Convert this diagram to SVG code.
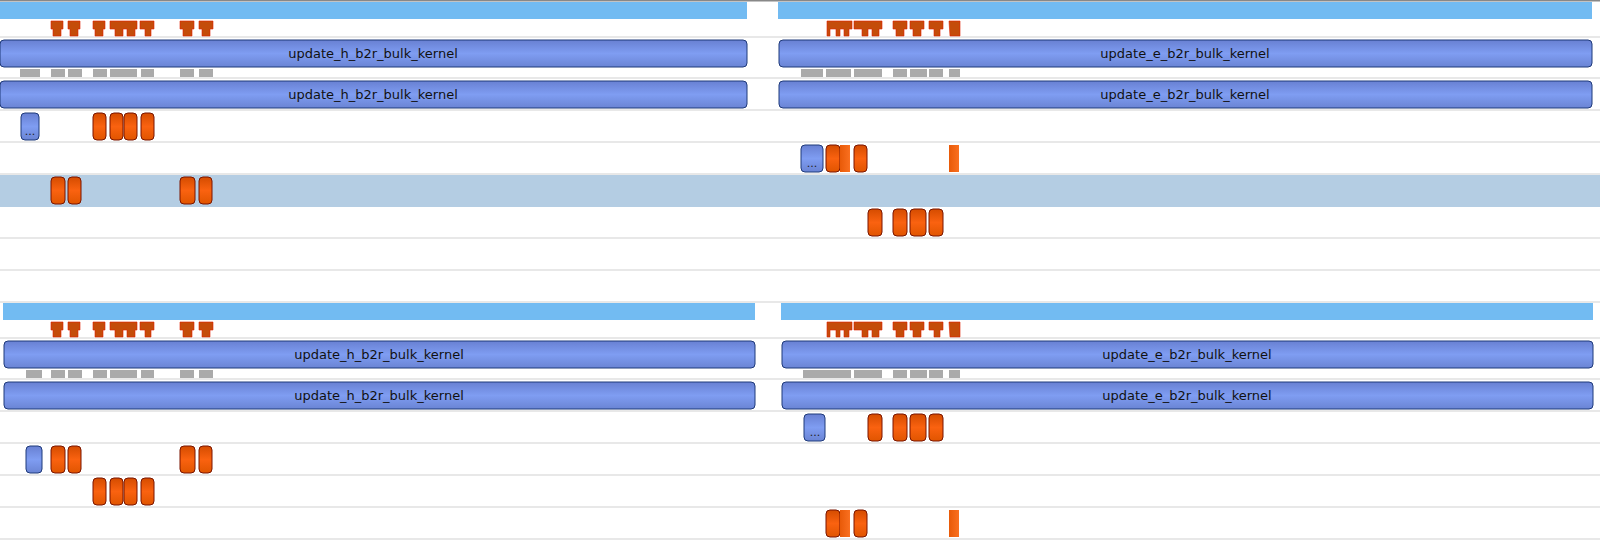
<svg xmlns="http://www.w3.org/2000/svg" width="1600" height="540" viewBox="0 0 1600 540">
<defs>
<linearGradient id="gb" x1="0" y1="0" x2="0" y2="1"><stop offset="0" stop-color="#6880d2"/><stop offset="0.5" stop-color="#7f9df2"/><stop offset="1" stop-color="#6a84d4"/></linearGradient>
<linearGradient id="go" x1="0" y1="0" x2="0" y2="1"><stop offset="0" stop-color="#d44c00"/><stop offset="0.5" stop-color="#fa6210"/><stop offset="1" stop-color="#e05500"/></linearGradient>
<linearGradient id="gr" x1="0" y1="0" x2="1" y2="0"><stop offset="0" stop-color="#e85a08"/><stop offset="1" stop-color="#fa7020"/></linearGradient>
</defs>
<style>
.sep{stroke:#e8e8e8;stroke-width:2}
.lb{fill:#72bbf2}
.bar{fill:url(#gb);stroke:#1f3a7a;stroke-width:1}
.pill{fill:url(#go);stroke:#7a1500;stroke-width:1}
.sq{fill:url(#gr)}
.box{fill:url(#gb);stroke:#1f3a7a;stroke-width:1}
.gr{fill:#aaaaaa}
.t{fill:#c44c0a;stroke:#e02000;stroke-width:0.6}
.lbl{font-family:"DejaVu Sans",sans-serif;font-size:13px;fill:#111}
.dots{font-family:"DejaVu Sans",sans-serif;font-size:11px;fill:#222}
</style>
<rect width="1600" height="540" fill="#fff"/>
<g id="rows">
<rect x="0" y="174" width="1600" height="33" fill="#b4cde3"/>
<line class="sep" x1="0" y1="37" x2="1600" y2="37"/>
<line class="sep" x1="0" y1="78" x2="1600" y2="78"/>
<line class="sep" x1="0" y1="110" x2="1600" y2="110"/>
<line class="sep" x1="0" y1="142" x2="1600" y2="142"/>
<line class="sep" x1="0" y1="174" x2="1600" y2="174"/>
<line class="sep" x1="0" y1="238" x2="1600" y2="238"/>
<line class="sep" x1="0" y1="270" x2="1600" y2="270"/>
<line class="sep" x1="0" y1="302" x2="1600" y2="302"/>
<line class="sep" x1="0" y1="338" x2="1600" y2="338"/>
<line class="sep" x1="0" y1="379" x2="1600" y2="379"/>
<line class="sep" x1="0" y1="411" x2="1600" y2="411"/>
<line class="sep" x1="0" y1="443" x2="1600" y2="443"/>
<line class="sep" x1="0" y1="475" x2="1600" y2="475"/>
<line class="sep" x1="0" y1="507" x2="1600" y2="507"/>
<line class="sep" x1="0" y1="539" x2="1600" y2="539"/>
<rect x="0" y="0" width="1600" height="1.5" fill="#888"/>
</g>
<g id="top-panel">
<rect class="lb" x="0" y="2" width="747" height="17"/>
<rect class="lb" x="778" y="2" width="814" height="17"/>
<g id="top-markers">
<path class="t" d="M51 21h12v8h-2v7h-8v-7h-2z"/>
<path class="t" d="M68 21h12v8h-2v7h-8v-7h-2z"/>
<path class="t" d="M93 21h12v8h-2v7h-8v-7h-2z"/>
<path class="t" d="M110 21h27v8h-2v7h-8v-7h-4v7h-8v-7h-5z"/>
<path class="t" d="M140 21h14v8h-3v7h-6v-7h-5z"/>
<path class="t" d="M180 21h14v8h-2v7h-9v-7h-3z"/>
<path class="t" d="M199 21h14v8h-3v7h-8v-7h-3z"/>
<path class="t" d="M827 21h25v8h-3v7h-5v-7h-4v7h-4v-7h-6v7h-3z"/>
<path class="t" d="M854 21h28v8h-3v7h-7v-7h-4v7h-6v-7h-8z"/>
<path class="t" d="M893 21h14v8h-3v7h-8v-7h-3z"/>
<path class="t" d="M910 21h14v8h-3v7h-8v-7h-3z"/>
<path class="t" d="M929 21h14v8h-3v7h-6v-7h-5z"/>
<path class="t" d="M949 21h11v15h-10z"/>
</g>
<g id="bar-h1"><rect class="bar" x="0" y="40" width="747" height="27" rx="4"/><text class="lbl" x="373" y="58" text-anchor="middle">update_h_b2r_bulk_kernel</text></g>
<g id="bar-e1"><rect class="bar" x="779" y="40" width="813" height="27" rx="4"/><text class="lbl" x="1185" y="58" text-anchor="middle">update_e_b2r_bulk_kernel</text></g>
<g id="top-gray">
<rect class="gr" x="20" y="69" width="20" height="8"/><rect class="gr" x="51" y="69" width="14" height="8"/><rect class="gr" x="68" y="69" width="14" height="8"/><rect class="gr" x="93" y="69" width="14" height="8"/><rect class="gr" x="110" y="69" width="27" height="8"/><rect class="gr" x="141" y="69" width="13" height="8"/><rect class="gr" x="180" y="69" width="14" height="8"/><rect class="gr" x="199" y="69" width="14" height="8"/>
<rect class="gr" x="801" y="69" width="22" height="8"/><rect class="gr" x="826" y="69" width="25" height="8"/><rect class="gr" x="854" y="69" width="28" height="8"/><rect class="gr" x="893" y="69" width="14" height="8"/><rect class="gr" x="910" y="69" width="17" height="8"/><rect class="gr" x="929" y="69" width="14" height="8"/><rect class="gr" x="949" y="69" width="11" height="8"/>
</g>
<g id="bar-h2"><rect class="bar" x="0" y="81" width="747" height="27" rx="4"/><text class="lbl" x="373" y="99" text-anchor="middle">update_h_b2r_bulk_kernel</text></g>
<g id="bar-e2"><rect class="bar" x="779" y="81" width="813" height="27" rx="4"/><text class="lbl" x="1185" y="99" text-anchor="middle">update_e_b2r_bulk_kernel</text></g>
<g id="top-row3">
<rect class="box" x="21" y="113" width="18" height="27" rx="4"/><text class="dots" x="30" y="135" text-anchor="middle">...</text>
<rect class="pill" x="93" y="113" width="13" height="27" rx="4"/><rect class="pill" x="110" y="113" width="13" height="27" rx="4"/><rect class="pill" x="124" y="113" width="13" height="27" rx="4"/><rect class="pill" x="141" y="113" width="13" height="27" rx="4"/>
</g>
<g id="top-row4">
<rect class="box" x="801" y="145" width="22" height="27" rx="4"/><text class="dots" x="812" y="167" text-anchor="middle">...</text>
<rect class="pill" x="826" y="145" width="14" height="27" rx="4"/><rect class="sq" x="840" y="145" width="10" height="27"/><rect class="pill" x="854" y="145" width="13" height="27" rx="4"/><rect class="sq" x="949" y="145" width="10" height="27"/>
</g>
<g id="top-row5">
<rect class="pill" x="51" y="177" width="14" height="27" rx="4"/><rect class="pill" x="68" y="177" width="13" height="27" rx="4"/><rect class="pill" x="180" y="177" width="15" height="27" rx="4"/><rect class="pill" x="199" y="177" width="13" height="27" rx="4"/>
</g>
<g id="top-row6">
<rect class="pill" x="868" y="209" width="14" height="27" rx="4"/><rect class="pill" x="893" y="209" width="14" height="27" rx="4"/><rect class="pill" x="910" y="209" width="16" height="27" rx="4"/><rect class="pill" x="929" y="209" width="14" height="27" rx="4"/>
</g>
</g>
<g id="bottom-panel">
<rect class="lb" x="3" y="303" width="752" height="17"/>
<rect class="lb" x="781" y="303" width="812" height="17"/>
<g id="bottom-markers">
<path class="t" d="M51 322h12v8h-2v7h-8v-7h-2z"/>
<path class="t" d="M68 322h12v8h-2v7h-8v-7h-2z"/>
<path class="t" d="M93 322h12v8h-2v7h-8v-7h-2z"/>
<path class="t" d="M110 322h27v8h-2v7h-8v-7h-4v7h-8v-7h-5z"/>
<path class="t" d="M140 322h14v8h-3v7h-6v-7h-5z"/>
<path class="t" d="M180 322h14v8h-2v7h-9v-7h-3z"/>
<path class="t" d="M199 322h14v8h-3v7h-8v-7h-3z"/>
<path class="t" d="M827 322h25v8h-3v7h-5v-7h-4v7h-4v-7h-6v7h-3z"/>
<path class="t" d="M854 322h28v8h-3v7h-7v-7h-4v7h-6v-7h-8z"/>
<path class="t" d="M893 322h14v8h-3v7h-8v-7h-3z"/>
<path class="t" d="M910 322h14v8h-3v7h-8v-7h-3z"/>
<path class="t" d="M929 322h14v8h-3v7h-6v-7h-5z"/>
<path class="t" d="M949 322h11v15h-10z"/>
</g>
<g id="bar-h3"><rect class="bar" x="4" y="341" width="751" height="27" rx="4"/><text class="lbl" x="379" y="359" text-anchor="middle">update_h_b2r_bulk_kernel</text></g>
<g id="bar-e3"><rect class="bar" x="782" y="341" width="811" height="27" rx="4"/><text class="lbl" x="1187" y="359" text-anchor="middle">update_e_b2r_bulk_kernel</text></g>
<g id="bottom-gray">
<rect class="gr" x="26" y="370" width="16" height="8"/><rect class="gr" x="51" y="370" width="14" height="8"/><rect class="gr" x="68" y="370" width="14" height="8"/><rect class="gr" x="93" y="370" width="14" height="8"/><rect class="gr" x="110" y="370" width="27" height="8"/><rect class="gr" x="141" y="370" width="13" height="8"/><rect class="gr" x="180" y="370" width="14" height="8"/><rect class="gr" x="199" y="370" width="14" height="8"/>
<rect class="gr" x="803" y="370" width="48" height="8"/><rect class="gr" x="854" y="370" width="28" height="8"/><rect class="gr" x="893" y="370" width="14" height="8"/><rect class="gr" x="910" y="370" width="17" height="8"/><rect class="gr" x="929" y="370" width="14" height="8"/><rect class="gr" x="949" y="370" width="11" height="8"/>
</g>
<g id="bar-h4"><rect class="bar" x="4" y="382" width="751" height="27" rx="4"/><text class="lbl" x="379" y="400" text-anchor="middle">update_h_b2r_bulk_kernel</text></g>
<g id="bar-e4"><rect class="bar" x="782" y="382" width="811" height="27" rx="4"/><text class="lbl" x="1187" y="400" text-anchor="middle">update_e_b2r_bulk_kernel</text></g>
<g id="bottom-row3">
<rect class="box" x="804" y="414" width="21" height="27" rx="4"/><text class="dots" x="815" y="436" text-anchor="middle">...</text>
<rect class="pill" x="868" y="414" width="14" height="27" rx="4"/><rect class="pill" x="893" y="414" width="14" height="27" rx="4"/><rect class="pill" x="910" y="414" width="16" height="27" rx="4"/><rect class="pill" x="929" y="414" width="14" height="27" rx="4"/>
</g>
<g id="bottom-row4">
<rect class="box" x="26" y="446" width="16" height="27" rx="4"/>
<rect class="pill" x="51" y="446" width="14" height="27" rx="4"/><rect class="pill" x="68" y="446" width="13" height="27" rx="4"/><rect class="pill" x="180" y="446" width="15" height="27" rx="4"/><rect class="pill" x="199" y="446" width="13" height="27" rx="4"/>
</g>
<g id="bottom-row5">
<rect class="pill" x="93" y="478" width="13" height="27" rx="4"/><rect class="pill" x="110" y="478" width="13" height="27" rx="4"/><rect class="pill" x="124" y="478" width="13" height="27" rx="4"/><rect class="pill" x="141" y="478" width="13" height="27" rx="4"/>
</g>
<g id="bottom-row6">
<rect class="pill" x="826" y="510" width="14" height="27" rx="4"/><rect class="sq" x="840" y="510" width="10" height="27"/><rect class="pill" x="854" y="510" width="13" height="27" rx="4"/><rect class="sq" x="949" y="510" width="10" height="27"/>
</g>
</g>
<g id="connectors"/>
</svg>
